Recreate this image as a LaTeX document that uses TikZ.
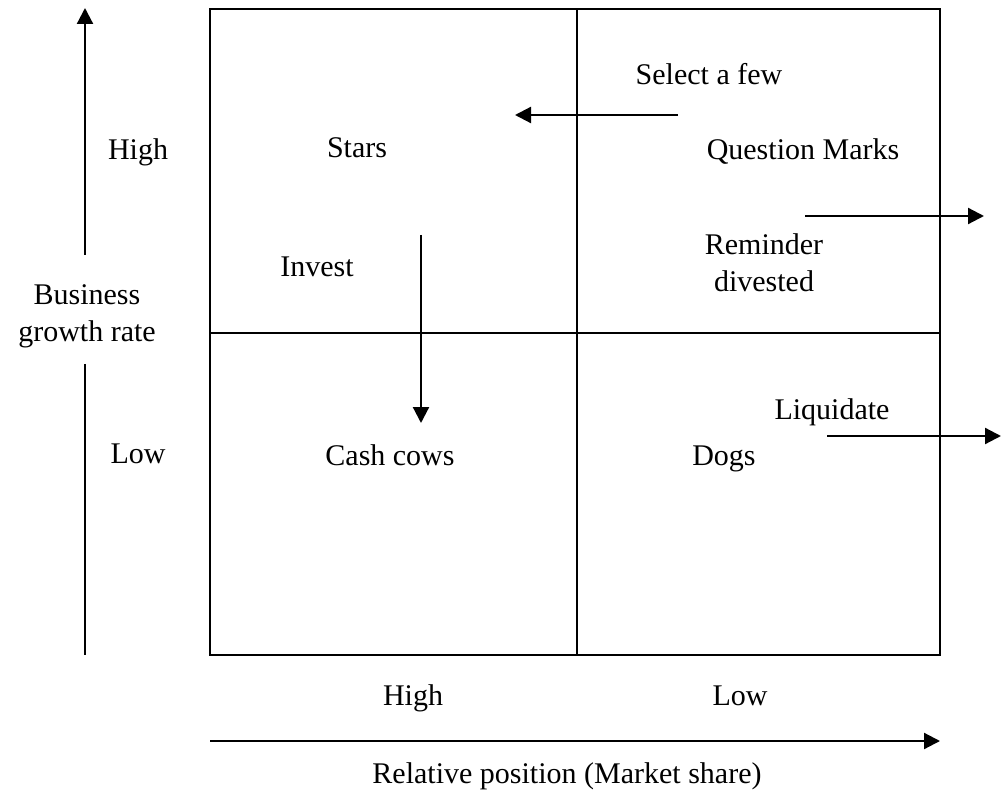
\documentclass[tikz,border=0pt]{standalone}
\usepackage{fontspec}
\setmainfont{Liberation Serif}
\usetikzlibrary{arrows.meta}
\begin{document}
\begin{tikzpicture}[x=1pt,y=-1pt,
  line/.style={line width=2.2pt},
  arr/.style={line width=2.2pt,-{Triangle[length=16pt,width=16pt]}},
  lbl/.style={font=\fontsize{30}{37}\selectfont,inner sep=0pt,align=center,anchor=base}]
\useasboundingbox (0,0) rectangle (1001,791);
% matrix frame and quadrant dividers
\draw[line] (210,9) rectangle (940,655);
\draw[line] (577,9) -- (577,655);
\draw[line] (210,333) -- (940,333);
% vertical axis
\coordinate (ya) at (85,255);
\coordinate (yb) at (85,8);
\coordinate (yc) at (85,364);
\coordinate (yd) at (85,655);
\draw[arr] (ya) -- (yb);
\draw[line] (yc) -- (yd);
\node[lbl] (ylab) at (87,342) {Business\\growth rate};
\node[lbl] (yhigh) at (138,160) {High};
\node[lbl] (ylow) at (138,463) {Low};
% horizontal axis
\coordinate (xa) at (210,741);
\coordinate (xb) at (940,741);
\draw[arr] (xa) -- (xb);
\node[lbl] (xhigh) at (413,705) {High};
\node[lbl] (xlow) at (740,705) {Low};
\node[lbl] (xlab) at (567,783) {Relative position (Market share)};
% quadrant labels
\node[lbl] (stars) at (357,158) {Stars};
\node[lbl] (qm) at (803,160) {Question Marks};
\node[lbl] (cows) at (390,465) {Cash cows};
\node[lbl] (dogs) at (724,465) {Dogs};
\node[lbl] (invest) at (317,277) {Invest};
\node[lbl] (remind) at (764,292) {Reminder\\divested};
\node[lbl] (select) at (709,85) {Select a few};
\node[lbl] (liq) at (832,419) {Liquidate};
% strategy arrows
\coordinate (s1) at (678,115);
\coordinate (s2) at (515,115);
\draw[arr] (s1) -- (s2);
\coordinate (i1) at (421,235);
\coordinate (i2) at (421,423);
\draw[arr] (i1) -- (i2);
\coordinate (r1) at (805,216);
\coordinate (r2) at (984,216);
\draw[arr] (r1) -- (r2);
\coordinate (d1) at (827,436);
\coordinate (d2) at (1001,436);
\draw[arr] (d1) -- (d2);
\end{tikzpicture}
\end{document}
